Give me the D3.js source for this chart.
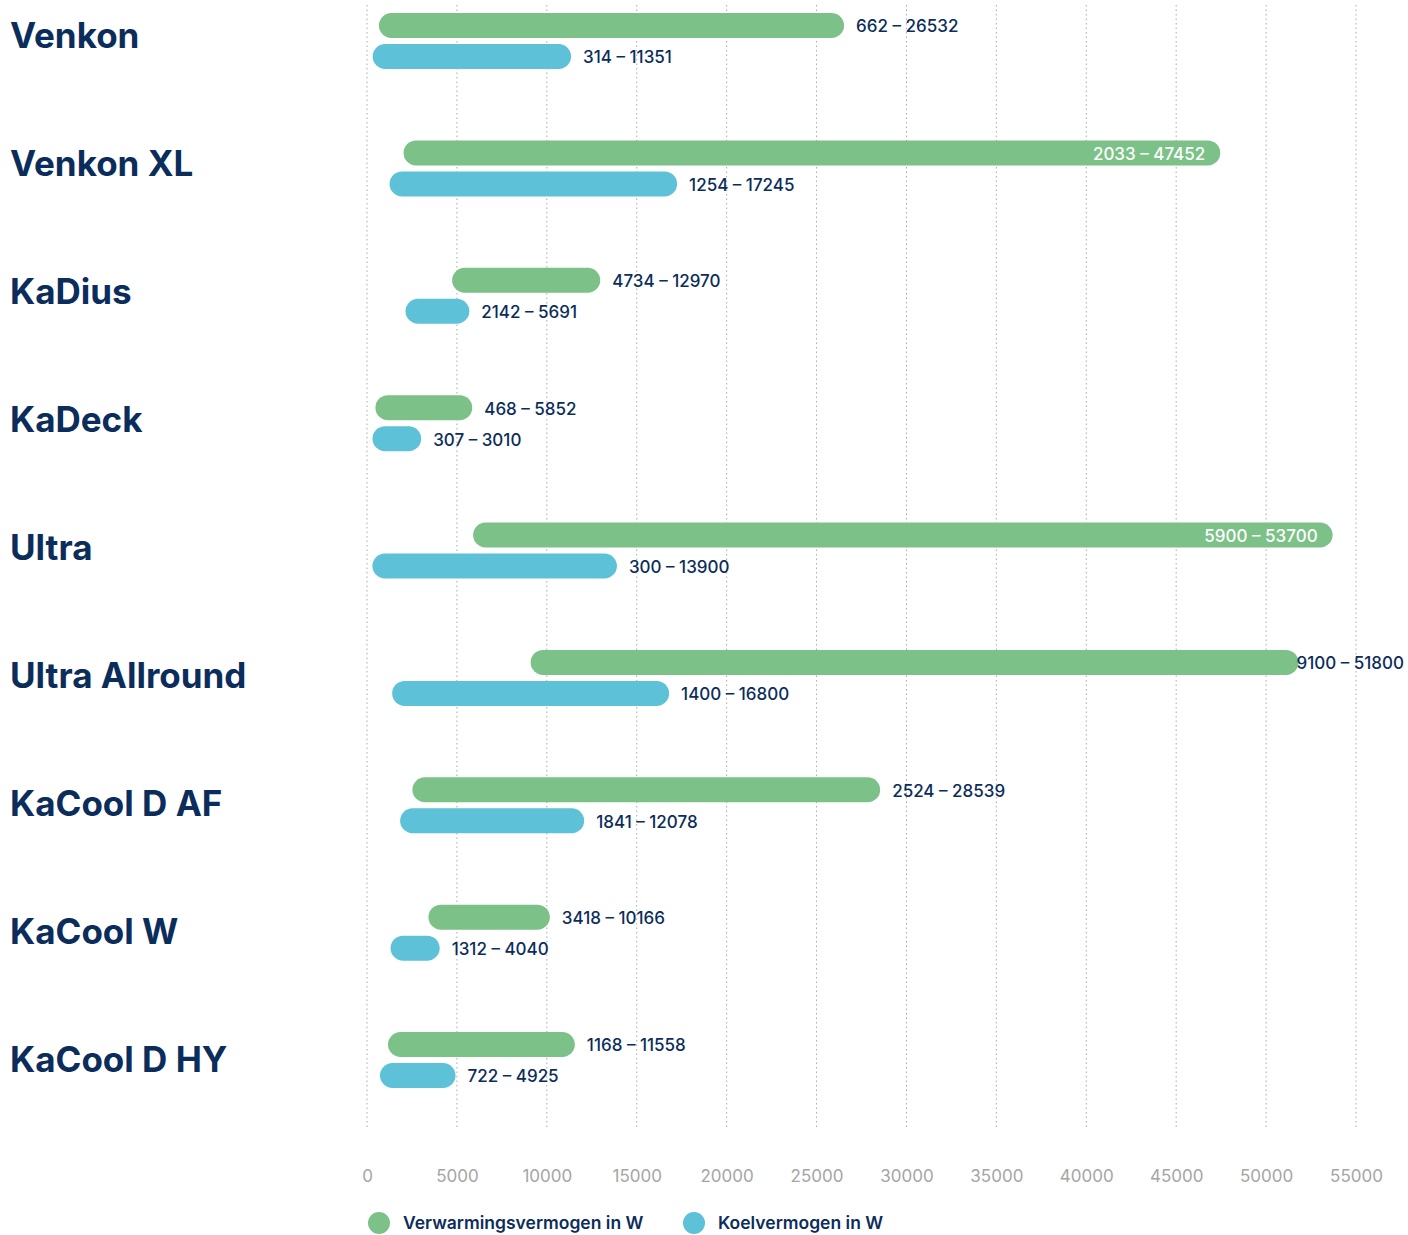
<!DOCTYPE html>
<html>
<head>
<meta charset="utf-8">
<script src="https://cdn.jsdelivr.net/npm/d3@7"></script>
<style>
    body { margin: 0; background: #fff; }
    #chart { width: 1408px; height: 1235px; }
    .cat { font-family: Inter, sans-serif; font-weight: 700; font-size: 35px; fill: #0b2d5b; }
    .val { font-family: Inter, sans-serif; font-weight: 500; font-size: 17px; }
    .tick text { font-family: Inter, sans-serif; font-size: 17px; fill: #a5a5a5; }
    .legend { font-family: Inter, sans-serif; font-weight: 600; font-size: 17.5px; fill: #0b2d5b; }
</style>
</head>
<body>
<div id="chart"></div>
<script>

var products = ["Venkon", "Venkon XL", "KaDius", "KaDeck", "Ultra", "Ultra Allround", "KaCool D AF", "KaCool W", "KaCool D HY"];

// verwarmingsvermogen (W)
var heatMin = [662, 2033, 4734, 468, 5900, 9100, 2524, 3418, 1168];
var heatMax = [26532, 47452, 12970, 5852, 53700, 51800, 28539, 10166, 11558];

// koelvermogen (W)
var coolMin = [314, 1254, 2142, 307, 300, 1400, 1841, 1312, 722];
var coolMax = [11351, 17245, 5691, 3010, 13900, 16800, 12078, 4040, 4925];

var tickValues = [0, 5000, 10000, 15000, 20000, 25000, 30000, 35000, 40000, 45000, 50000, 55000];

var seriesNames = ["Verwarmingsvermogen in W", "Koelvermogen in W"];
var seriesColors = ["#7bc188", "#5dc1d8"];


var width = 1408;
var height = 1235;
var navy = "#0b2d5b";

var svg = d3.select("#chart")
    .append("svg")
    .attr("width", width)
    .attr("height", height);

var x = d3.scaleLinear()
    .domain([0, 55000])
    .range([367, 1356]);

// centre between the two bars of a product
var y = d3.scalePoint()
    .domain(products)
    .range([41, 1060]);

// baseline of the product names (a bit wider spaced than the bars)
var yLabel = d3.scalePoint()
    .domain(products)
    .range([48, 1072]);

var barH = 25;
var offset = 15.5;

// dotted grid + tick labels
var xAxis = d3.axisBottom(x)
    .tickValues(tickValues)
    .tickFormat(d3.format("d"))
    .tickSize(0)
    .tickPadding(0);

var axisG = svg.append("g")
    .attr("transform", "translate(0,1170)")
    .call(xAxis);
axisG.select(".domain").remove();
axisG.selectAll("text").attr("dy", "0.32em").attr("y", 7);

svg.append("g")
    .selectAll("line")
    .data(tickValues)
    .enter()
    .append("line")
        .attr("x1", function(d) { return x(d); })
        .attr("x2", function(d) { return x(d); })
        .attr("y1", 5)
        .attr("y2", 1128)
        .attr("stroke", "#aaaaaa")
        .attr("stroke-width", 1)
        .attr("stroke-dasharray", "1.5,3");

// category labels
svg.selectAll("text.cat")
    .data(products)
    .enter()
    .append("text")
        .attr("class", "cat")
        .attr("x", 10)
        .attr("y", function(d) { return yLabel(d); })
        .text(function(d) { return d; });

// build bar rows from the arrays
var rows = [];
products.forEach(function(p, i) {
    rows.push({ product: p, s: 0, from: heatMin[i], to: heatMax[i] });
    rows.push({ product: p, s: 1, from: coolMin[i], to: coolMax[i] });
});

function rowY(d) {
    return y(d.product) + (d.s === 0 ? -offset : offset);
}

svg.append("g")
    .selectAll("rect")
    .data(rows)
    .enter()
    .append("rect")
        .attr("x", function(d) { return x(d.from); })
        .attr("y", function(d) { return rowY(d) - barH / 2; })
        .attr("width", function(d) { return x(d.to) - x(d.from); })
        .attr("height", barH)
        .attr("rx", barH / 2)
        .attr("fill", function(d) { return seriesColors[d.s]; });

// value labels: inside the bar when the bar is very long
svg.append("g")
    .selectAll("text")
    .data(rows)
    .enter()
    .append("text")
        .attr("class", "val")
        .attr("dy", "0.35em")
        .attr("y", function(d) { return rowY(d) + 1; })
        .text(function(d) { return d.from + " \u2013 " + d.to; })
        .each(function(d) {
            var inside = x(d.to) - x(d.from) > 800;
            var el = d3.select(this);
            if (inside) {
                el.attr("x", x(d.to) - 15)
                    .attr("text-anchor", "end")
                    .attr("fill", "#fff");
            } else {
                var w = this.getComputedTextLength();
                el.attr("x", Math.min(x(d.to) + 12, width - 4 - w))
                    .attr("fill", navy);
            }
        });

// legend
var legendX = [379, 694];
var legend = svg.append("g")
    .selectAll("g")
    .data(seriesNames)
    .enter()
    .append("g")
        .attr("transform", function(d, i) { return "translate(" + legendX[i] + ",1223)"; });

legend.append("circle")
    .attr("r", 11)
    .attr("fill", function(d, i) { return seriesColors[i]; });

legend.append("text")
    .attr("class", "legend")
    .attr("x", 24)
    .attr("dy", "0.35em")
    .text(function(d) { return d; });

</script>
</body>
</html>
